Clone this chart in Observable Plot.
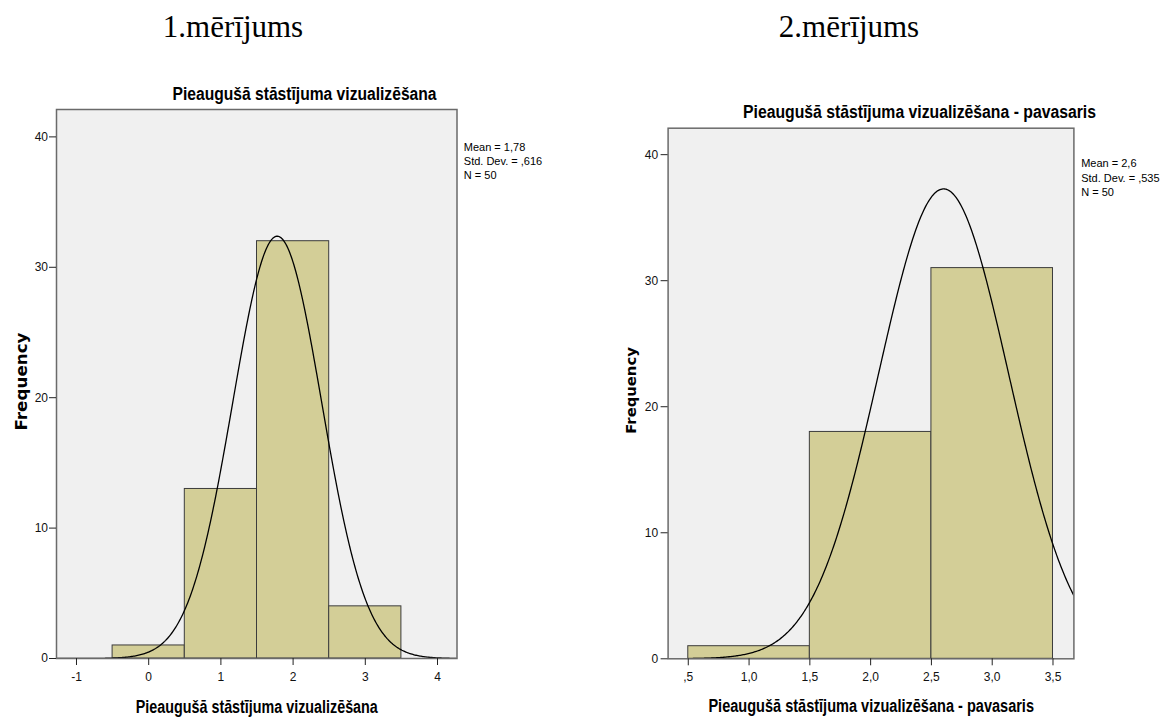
<!DOCTYPE html>
<html><head><meta charset="utf-8">
<script src="https://cdn.jsdelivr.net/npm/d3@7"></script>
<script src="https://cdn.jsdelivr.net/npm/@observablehq/plot@0.6"></script>
<style>
body{margin:0;background:#fff;}
#root{position:relative;width:1164px;height:718px;overflow:hidden;background:#fff;}
.hdr{position:absolute;top:11px;font:31px/1 "Liberation Serif","Times New Roman",serif;color:#000;transform:translateX(-50%);white-space:nowrap;}
.panel{position:absolute;top:0;}
</style></head><body>
<div id="root"></div>
<script>
// ---- data ----
const headers = ["1.mērījums", "2.mērījums"];
const edges1 = [-0.5, 0.5, 1.5, 2.5, 3.5];
const counts1 = [1, 13, 32, 4];
const edges2 = [0.5, 1.5, 2.5, 3.5];
const counts2 = [1, 18, 31];
const mean1 = 1.78, sd1 = 0.616, n1 = 50;
const mean2 = 2.6, sd2 = 0.535, n2 = 50;
const xTicks1 = [-1, 0, 1, 2, 3, 4];
const xTicks2 = [0.5, 1, 1.5, 2, 2.5, 3, 3.5];
const yTicks = [0, 10, 20, 30, 40];
const title1 = "Pieaugušā stāstījuma vizualizēšana";
const title2 = "Pieaugušā stāstījuma vizualizēšana - pavasaris";
const xLabel1 = "Pieaugušā stāstījuma vizualizēšana";
const xLabel2 = "Pieaugušā stāstījuma vizualizēšana - pavasaris";
const stats1 = ["Mean = 1,78", "Std. Dev. = ,616", "N = 50"];
const stats2 = ["Mean = 2,6", "Std. Dev. = ,535", "N = 50"];
const yLabel = "Frequency";

const root = document.getElementById("root");
headers.forEach((h, i) => {
  const d = document.createElement("div");
  d.className = "hdr";
  d.style.left = (i === 0 ? 233 : 849) + "px";
  d.textContent = h;
  root.appendChild(d);
});

function makePanel(p) {
  const bars = p.counts.map((c, i) => ({x1: p.edges[i], x2: p.edges[i + 1], n: c}));
  const [a, b] = p.xDomain;
  const curve = d3.range(0, 401).map(i => {
    const x = a + (b - a) * i / 400;
    return {x, y: p.n * Math.exp(-0.5 * ((x - p.mean) / p.sd) ** 2) / (p.sd * Math.sqrt(2 * Math.PI))};
  });
  const txt = (s, dx, dy, o) => Plot.text([s], {text: d => d, frameAnchor: "top-left", dx, dy,
    textAnchor: "middle", lineAnchor: "middle", fill: "#000", ...o});
  const sansB = {fontFamily: "Liberation Sans, Arial, sans-serif", fontWeight: "bold"};
  const marks = [
    Plot.frame({fill: "#f0f0f0", stroke: null}),
    Plot.rectY(bars, {x1: "x1", x2: "x2", y1: 0, y2: "n", fill: "#d3ce97", stroke: "#3c3c3c", strokeWidth: 1}),
    Plot.line(curve, {x: "x", y: "y", stroke: "#000", strokeWidth: 1.3, clip: true}),
    Plot.frame({stroke: "#6a6a6a", strokeWidth: 1.5}),
    Plot.axisX(p.xTicks, {tickSize: 7, tickPadding: 7, tickFormat: p.fmt, label: null, stroke: "#222", fill: "#111", fontSize: 12}),
    Plot.axisY(yTicks, {tickSize: 7, tickPadding: p.yPad, label: null, stroke: "#222", fill: "#111", fontSize: 12}),
    txt(p.title, p.titlePos[0], p.titlePos[1], {...sansB, fontSize: 18, ariaDescription: "ftitle"}),
    txt(p.xLabel, p.xlPos[0], p.xlPos[1], {...sansB, fontSize: 17.5, ariaDescription: "fxlabel"}),
    txt(yLabel, p.ylPos[0], p.ylPos[1], {fontFamily: "DejaVu Sans, Verdana, sans-serif", fontWeight: "bold", fontSize: p.ylFont, rotate: -90, ariaDescription: "fylabel"}),
    ...p.stats.map((s, i) => txt(s, p.statsPos[0], p.statsPos[1][i], {textAnchor: "start", fontFamily: "Liberation Sans, Arial, sans-serif", fontSize: 11}))
  ];
  const svg = Plot.plot({
    width: 580, height: 718,
    marginLeft: p.margin[0], marginTop: p.margin[1], marginRight: p.margin[2], marginBottom: p.margin[3],
    x: {domain: p.xDomain},
    y: {domain: [0, 42.1]},
    style: {fontFamily: "Liberation Sans, Arial, sans-serif", fontSize: "12px", background: "transparent", color: "#111", overflow: "visible"},
    marks
  });
  // condensed text widths as in the reference
  for (const [key, w] of Object.entries(p.fits)) {
    d3.select(svg).selectAll(`g[aria-description="${key}"] text`)
      .attr("textLength", w).attr("lengthAdjust", "spacingAndGlyphs");
  }
  svg.classList.add("panel");
  svg.style.left = p.left + "px";
  svg.style.position = "absolute";
  root.appendChild(svg);
}

makePanel({
  left: 0,
  margin: [56, 109, 123.5, 60],
  edges: edges1, counts: counts1, mean: mean1, sd: sd1, n: n1,
  xDomain: [-1.277, 4.27], xTicks: xTicks1, fmt: d => String(d),
  yPad: 1.5,
  title: title1, xLabel: xLabel1,
  titlePos: [248, -15.7], xlPos: [200.3, 598], ylPos: [-35.2, 272], ylFont: 16.7,
  stats: stats1, statsPos: [407.3, [37.5, 51.7, 66]],
  fits: {ftitle: 264, fxlabel: 242, fylabel: 98}
});

makePanel({
  left: 584,
  margin: [83.6, 127.7, 90.6, 59.7],
  edges: edges2, counts: counts2, mean: mean2, sd: sd2, n: n2,
  xDomain: [0.334, 3.672], xTicks: xTicks2, fmt: d => d === 0.5 ? ",5" : d.toFixed(1).replace(".", ","),
  yPad: 3,
  title: title2, xLabel: xLabel2,
  titlePos: [251.4, -16], xlPos: [203.1, 578.5], ylPos: [-36.9, 262.3], ylFont: 14.8,
  stats: stats2, statsPos: [413.1, [35.3, 50, 63.8]],
  fits: {ftitle: 353, fxlabel: 325.6, fylabel: 86.7}
});
</script>
</body></html>
